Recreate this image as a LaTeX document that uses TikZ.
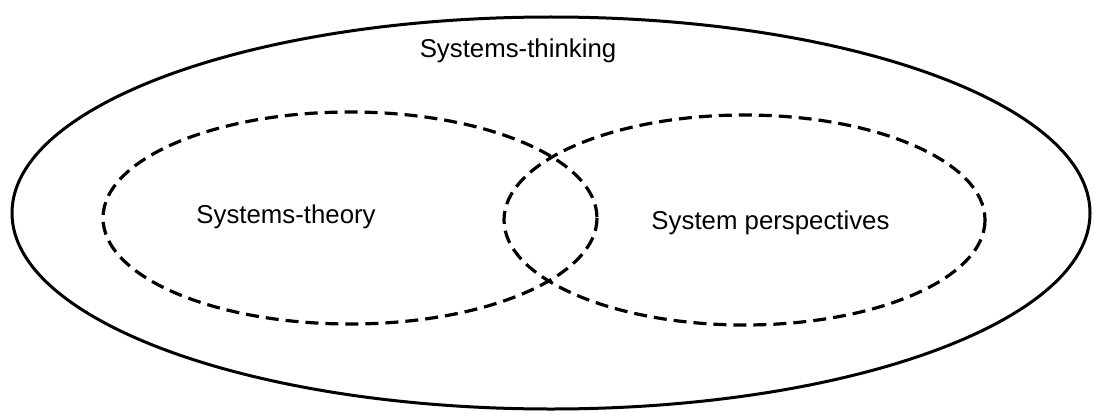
\documentclass[tikz,border=0pt]{standalone}
\usepackage{fontspec}
\setmainfont{Liberation Sans}
\begin{document}
\begin{tikzpicture}[x=1pt,y=-1pt,
  outerline/.style={draw=black,line width=3pt},
  setline/.style={draw=black,line width=3.2pt,dash pattern=on 13pt off 7pt},
  lbl/.style={font=\fontsize{25.8}{30}\selectfont,anchor=base,inner sep=0pt}]
\useasboundingbox (0,0) rectangle (1094,412);
% whole field
\draw[outerline] (551,213) ellipse [x radius=539, y radius=196];
% the two overlapping sets
\draw[setline] (350,218) ellipse [x radius=247, y radius=106];
\draw[setline] (744.5,220) ellipse [x radius=240.5, y radius=105];
% labels
\node[lbl] (thinking) at (518,58) {Systems-thinking};
\node[lbl] (theory) at (286,223) {Systems-theory};
\node[lbl] (persp) at (770.5,229) {System perspectives};
\end{tikzpicture}
\end{document}
